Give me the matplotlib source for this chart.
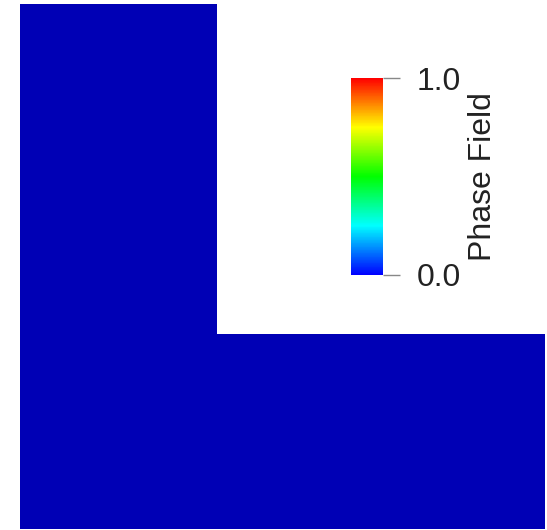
import numpy as np
import matplotlib
matplotlib.use("Agg")
import matplotlib.pyplot as plt
from matplotlib.colors import LinearSegmentedColormap, Normalize
from matplotlib.patches import Polygon
import matplotlib.cm as cm

plt.rcParams['font.family'] = ['Liberation Sans', 'DejaVu Sans']

# L-shaped domain outline (normalised coordinates)
domain_x = [0.0, 1.0, 1.0, 0.375, 0.375, 0.0]
domain_y = [0.0, 0.0, 0.372, 0.372, 1.0, 1.0]
# phase field value over the whole domain (undamaged)
phase_value = 0.0
field_range = [0.0, 1.0]
tick_labels = ['0.0', '1.0']
bar_label = 'Phase Field'

# rainbow colour map like the one used in the viewer
rainbow = LinearSegmentedColormap.from_list(
    'rainbow_pv', ['#0000ff', '#00ffff', '#00ff00', '#ffff00', '#ff0000'])

fig = plt.figure(figsize=(5.47, 5.30), dpi=100)
ax = fig.add_axes([0, 0, 1, 1])
norm = Normalize(field_range[0], field_range[1])
# the surface is shaded a bit darker than the raw colour map value
col = np.array(rainbow(norm(phase_value))[:3]) * 0.71
ax.add_patch(Polygon(np.column_stack([domain_x, domain_y]), closed=True,
                     facecolor=col, edgecolor='none'))
ax.set_xlim(-20 / 525, 527 / 525)
ax.set_ylim(-1 / 525, 529 / 525)
ax.axis('off')

# colour bar
cax = fig.add_axes([351 / 547, (530 - 275) / 530, 32 / 547, 197 / 530])
cb = fig.colorbar(cm.ScalarMappable(norm=norm, cmap=rainbow), cax=cax)
cb.outline.set_visible(False)
cb.set_ticks(field_range)
cb.set_ticklabels(tick_labels)
cax.tick_params(axis='y', length=12, width=1, color='#888888', pad=12,
                labelsize=23, labelcolor='#222222')
cb.set_label(bar_label, fontsize=23, color='#222222', labelpad=5)

fig.savefig('out.png', dpi=100)
